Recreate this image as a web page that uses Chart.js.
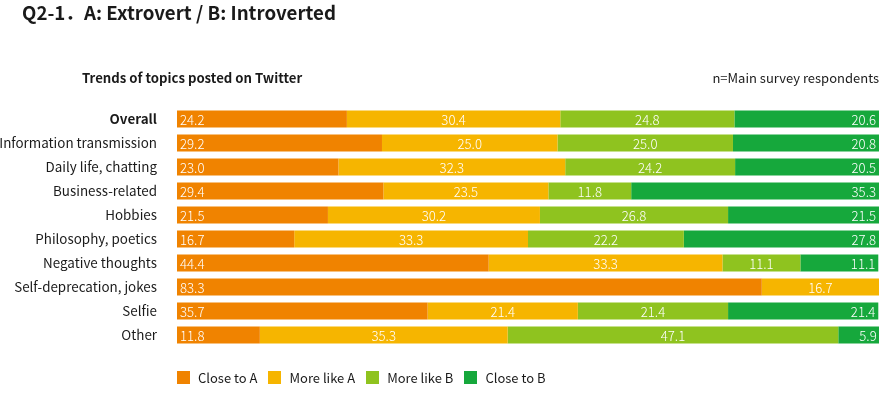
<!DOCTYPE html>
<html>
<head>
<meta charset="utf-8">
<script src="https://cdn.jsdelivr.net/npm/chart.js@4.4.1/dist/chart.umd.min.js"></script>
<style>
  body { margin: 0; background: #fff; font-family: "Noto Sans CJK JP", "Noto Sans", sans-serif; color: #1a1a1a; }
  #wrap { position: relative; width: 880px; height: 398px; }
  canvas { position: absolute; left: 0; top: 0; }
  .txt { position: absolute; white-space: nowrap; }
  #title { left: 22px; top: -2px; font-size: 18.7px; font-weight: bold; }
  #subtitle { left: 82px; top: 68px; font-size: 13.2px; font-weight: bold; }
  #note { right: 1px; top: 68px; font-size: 13px; }
  #legend { position: absolute; left: 177px; top: 368px; display: flex; font-size: 13px; }
  #legend .item { display: flex; align-items: center; margin-right: 11px; }
  #legend .box { width: 13px; height: 13px; margin-right: 8px; }
</style>
</head>
<body>
<div id="wrap">
  <canvas id="chart" width="880" height="398"></canvas>
  <div class="txt" id="title">Q2-1．A: Extrovert / B: Introverted</div>
  <div class="txt" id="subtitle">Trends of topics posted on Twitter</div>
  <div class="txt" id="note">n=Main survey respondents</div>
  <div id="legend"></div>
</div>
<script>
const categories = ["Overall", "Information transmission", "Daily life, chatting", "Business-related",
  "Hobbies", "Philosophy, poetics", "Negative thoughts", "Self-deprecation, jokes", "Selfie", "Other"];

const seriesNames = ["Close to A", "More like A", "More like B", "Close to B"];
const seriesColors = ["#F08300", "#F6B500", "#8FC31F", "#16A83C"];

const closeToA  = [24.2, 29.2, 23.0, 29.4, 21.5, 16.7, 44.4, 83.3, 35.7, 11.8];
const moreLikeA = [30.4, 25.0, 32.3, 23.5, 30.2, 33.3, 33.3, 16.7, 21.4, 35.3];
const moreLikeB = [24.8, 25.0, 24.2, 11.8, 26.8, 22.2, 11.1, 0, 21.4, 47.1];
const closeToB  = [20.6, 20.8, 20.5, 35.3, 21.5, 27.8, 11.1, 0, 21.4, 5.9];

const seriesValues = [closeToA, moreLikeA, moreLikeB, closeToB];

// legend in html
const legend = document.getElementById("legend");
seriesNames.forEach((name, i) => {
  const item = document.createElement("div");
  item.className = "item";
  const box = document.createElement("div");
  box.className = "box";
  box.style.background = seriesColors[i];
  const label = document.createElement("span");
  label.textContent = name;
  item.appendChild(box);
  item.appendChild(label);
  legend.appendChild(item);
});

// values written inside the bars
const barLabels = {
  id: "barLabels",
  afterDatasetsDraw(chart) {
    const ctx = chart.ctx;
    ctx.save();
    ctx.fillStyle = "#fff";
    ctx.font = "300 13.2px 'Noto Sans CJK JP', 'Noto Sans', sans-serif";
    ctx.textBaseline = "middle";
    const last = chart.data.datasets.length - 1;
    chart.data.datasets.forEach((ds, di) => {
      chart.getDatasetMeta(di).data.forEach((bar, i) => {
        const v = ds.data[i];
        if (!v) return;
        const text = v.toFixed(1);
        if (di === 0) {
          ctx.textAlign = "left";
          ctx.fillText(text, bar.base + 3, bar.y + 1);
        } else if (di === last) {
          ctx.textAlign = "right";
          ctx.fillText(text, bar.x - 3, bar.y + 1);
        } else {
          ctx.textAlign = "center";
          ctx.fillText(text, (bar.base + bar.x) / 2, bar.y + 1);
        }
      });
    });
    ctx.restore();
  }
};

new Chart(document.getElementById("chart"), {
  type: "bar",
  data: {
    labels: categories,
    datasets: seriesNames.map((name, i) => ({
      label: name,
      data: seriesValues[i],
      backgroundColor: seriesColors[i],
      borderWidth: 0,
      barPercentage: 1,
      categoryPercentage: 17 / 24
    }))
  },
  options: {
    indexAxis: "y",
    responsive: false,
    animation: false,
    devicePixelRatio: 1,
    layout: { padding: { left: 0, right: 1, top: 107, bottom: 51 } },
    plugins: {
      legend: { display: false },
      tooltip: { enabled: false }
    },
    scales: {
      x: { stacked: true, display: false, min: 0, max: 100 },
      y: {
        stacked: true,
        grid: { display: false, drawTicks: false },
        border: { display: false },
        afterFit(scale) { scale.width = 177; },
        ticks: {
          padding: 20,
          color: "#1a1a1a",
          font: ctx => ({
            family: "'Noto Sans CJK JP', 'Noto Sans', sans-serif",
            size: 13.4,
            weight: ctx.index === 0 ? "bold" : "normal"
          })
        }
      }
    }
  },
  plugins: [barLabels]
});
</script>
</body>
</html>
